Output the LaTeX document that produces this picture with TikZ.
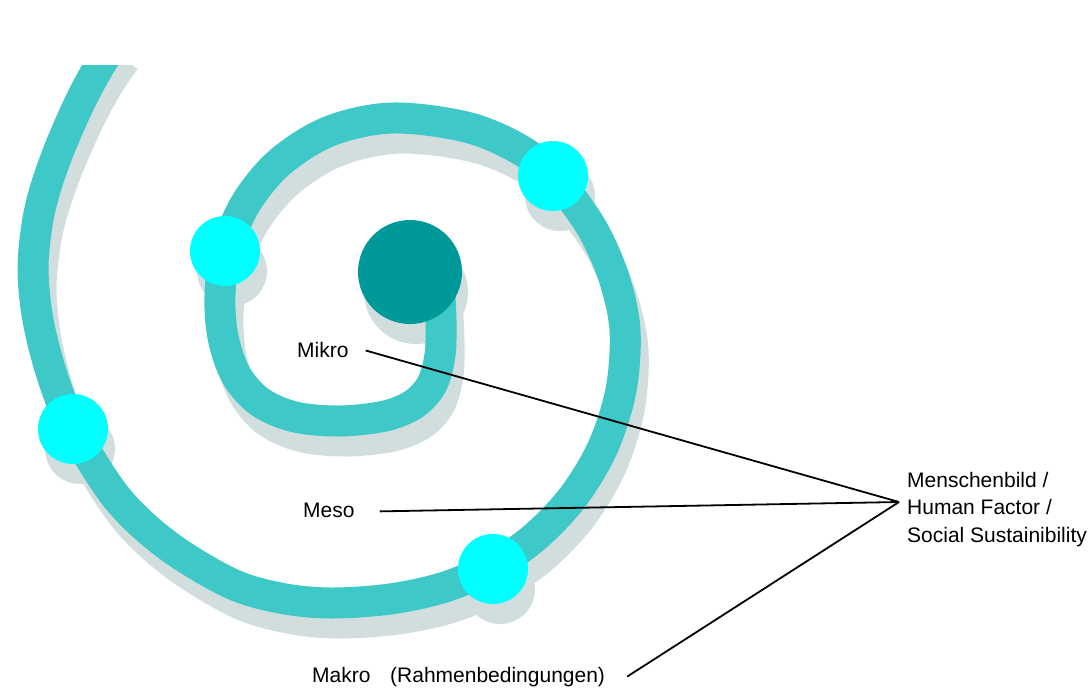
\documentclass[tikz,border=0pt]{standalone}
\usepackage{fontspec}
\setmainfont{Liberation Sans}
\definecolor{bandc}{RGB}{62,200,200}
\definecolor{darkteal}{RGB}{0,153,153}
\definecolor{cyanc}{RGB}{0,255,255}
\definecolor{shadowc}{RGB}{210,222,222}
\newcommand\spiralpath[1]{%
  \draw[#1] plot[smooth, tension=0.55] coordinates {
    (439,280) (441,320) (440,355) (432,384) (414,404) (385,416) (340,421)
    (295,417) (260,402) (236,375) (223,337) (220,295) (226,250) (246,203)
    (280,162) (330,131) (393,118) (470,128) (527,154) (563,188) (593,230)
    (614,278) (625,330) (621,390) (603,447) (573,497) (535,537) (493,566)
    (445,587) (390,599) (330,603) (280,598) (230,583) (167,545) (117,498)
    (74,430) (52,375) (38,320) (33,270) (37,225) (45,190) (59,150) (80,102)
    (100,65) (117,40)};}
\begin{document}
\begin{tikzpicture}[x=1pt,y=-1pt,
  lbl/.style={font=\fontsize{21}{27.5}\selectfont, inner sep=0pt, anchor=base west, text=black},
  conn/.style={line width=1.8pt, black},
  bandline/.style={line width=31pt, draw=bandc, line join=round},
  shadowline/.style={line width=31pt, draw=shadowc, line join=round},
  coredot/.style={circle, fill=darkteal, minimum size=104pt, inner sep=0pt},
  keydot/.style={circle, fill=cyanc, minimum size=70pt, inner sep=0pt},
  shadowdot/.style={circle, fill=shadowc, inner sep=0pt},
]
\fill[white] (0,0) rectangle (1090,688);
\useasboundingbox (0,0) rectangle (1090,688);

\begin{scope}
\clip (0,65) rectangle (1090,688);
% shadows
\spiralpath{shadowline, shift={(8,20)}}
\node[shadowdot, minimum size=104pt] (coreS) at (416,292) {};
\node[shadowdot, minimum size=70pt] (dotAS) at (232,271) {};
\node[shadowdot, minimum size=70pt] (dotBS) at (560,196) {};
\node[shadowdot, minimum size=70pt] (dotCS) at (80,449) {};
\node[shadowdot, minimum size=70pt] (dotDS) at (500,589) {};
% band
\spiralpath{bandline}
\end{scope}

\node[coredot] (core) at (410,272) {};
\node[keydot] (dotA) at (225,251) {};
\node[keydot] (dotB) at (553,176) {};
\node[keydot] (dotC) at (73,429) {};
\node[keydot] (dotD) at (493,569) {};

% labels
\node[lbl] (mikro) at (297,357) {Mikro};
\node[lbl] (meso) at (303,517) {Meso};
\node[lbl] (makro) at (312,682) {Makro};
\node[lbl] (rahmen) at (390,682) {(Rahmenbedingungen)};
\node[lbl, align=left] (human) at (907,542) {Menschenbild /\\Human Factor /\\Social Sustainibility};
\coordinate (conv) at ([xshift=-8pt]human.west |- 0,502);

\draw[conn] ([xshift=17pt,yshift=-1pt]mikro.east) -- (conv);
\draw[conn] ([xshift=25pt,yshift=-1.5pt]meso.east) -- (conv);
\draw[conn] ([xshift=22pt,yshift=0pt]rahmen.east) -- (conv);
\end{tikzpicture}
\end{document}
